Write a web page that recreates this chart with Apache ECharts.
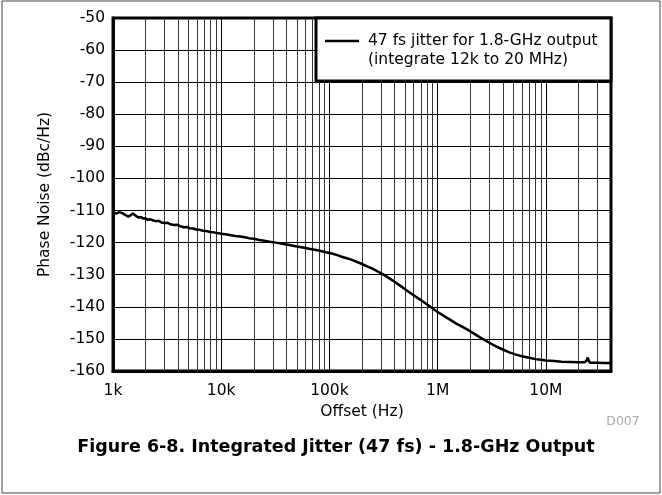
<!DOCTYPE html>
<html>
<head>
<meta charset="utf-8">
<script src="https://cdn.jsdelivr.net/npm/echarts@6/dist/echarts.min.js"></script>
<style>
html,body{margin:0;padding:0;background:#fff;}
#chart{width:662px;height:495px;}
</style>
</head>
<body>
<div id="chart"></div>
<script>
// ---- data ----
const freqHz = [
  1000,1080,1150,1220,1300,1380,1450,1520,1580,1650,1730,1810,1900,2000,2100,2200,2350,2500,2650,2800,
  3000,3200,3400,3650,3900,4200,4500,4800,5100,5500,5900,6300,6800,7300,7900,8500,9200,
  10000,11000,12000,13500,15000,16500,18000,20000,22000,25000,28000,32000,36000,40000,45000,50000,57000,65000,73000,83000,93000,
  105000,118000,130000,150000,170000,195000,220000,250000,280000,310000,350000,400000,450000,500000,560000,630000,700000,800000,900000,
  1000000,1150000,1300000,1500000,1750000,2000000,2300000,2600000,3000000,3500000,4000000,4600000,5300000,6000000,7000000,8000000,9000000,
  10000000,12000000,14000000,17000000,20000000,23000000,24000000,24400000,24800000,25500000,30000000,35000000,40000000
];
const phaseNoise = [
  -110.6,-110.9,-110.5,-110.8,-111.4,-111.9,-111.5,-110.9,-111.2,-111.8,-112.2,-112.0,-112.5,-112.4,-112.9,-112.7,-113.1,-113.3,-113.2,-113.7,
  -113.9,-113.8,-114.3,-114.5,-114.4,-114.9,-115.2,-115.1,-115.5,-115.6,-115.9,-116.0,-116.3,-116.4,-116.7,-116.8,-117.0,
  -117.2,-117.4,-117.6,-117.9,-118.1,-118.3,-118.6,-118.8,-119.1,-119.4,-119.7,-120.0,-120.3,-120.6,-120.9,-121.2,-121.5,-121.9,-122.2,-122.6,-123.0,
  -123.4,-123.9,-124.4,-125.0,-125.7,-126.5,-127.3,-128.1,-129.0,-129.8,-130.9,-132.2,-133.4,-134.5,-135.7,-136.9,-137.9,-139.3,-140.5,
  -141.6,-142.9,-144.0,-145.3,-146.5,-147.6,-148.9,-150.0,-151.2,-152.4,-153.3,-154.2,-154.9,-155.4,-155.9,-156.3,-156.5,
  -156.7,-156.9,-157.1,-157.2,-157.3,-157.3,-156.5,-155.8,-156.6,-157.4,-157.4,-157.5,-157.5
];
const xTickValues = [1000, 10000, 100000, 1000000, 10000000];
const xTickLabels = ['1k', '10k', '100k', '1M', '10M'];
const minorGridX = [
  2000,3000,4000,5000,6000,7000,8000,9000,
  20000,30000,40000,50000,60000,70000,80000,90000,
  200000,300000,400000,500000,600000,700000,800000,900000,
  2000000,3000000,4000000,5000000,6000000,7000000,8000000,9000000,
  20000000,30000000
];
const seriesName = '47 fs jitter for 1.8-GHz output';
const seriesNote = '(integrate 12k to 20 MHz)';
const chartTitle = 'Figure 6-8. Integrated Jitter (47 fs) - 1.8-GHz Output';

const FONT = '"DejaVu Sans", "Liberation Sans", Arial, sans-serif';
const curve = freqHz.map((f, i) => [f, phaseNoise[i]]);

const chart = echarts.init(document.getElementById('chart'), null, {renderer: 'canvas'});
chart.setOption({
  animation: false,
  backgroundColor: '#fff',
  grid: {
    left: 113, top: 18, width: 498, height: 353,
    show: true, borderColor: '#000', borderWidth: 3, backgroundColor: 'transparent'
  },
  xAxis: {
    type: 'log', logBase: 10, min: 1000, max: 40000000,
    name: 'Offset (Hz)', nameLocation: 'middle', nameGap: 32,
    nameTextStyle: {fontFamily: FONT, fontSize: 15.5, color: '#000'},
    axisLine: {show: true, lineStyle: {color: '#000', width: 3}},
    axisTick: {show: false},
    axisLabel: {
      fontFamily: FONT, fontSize: 15.5, color: '#000', margin: 12,
      formatter: v => { const i = xTickValues.findIndex(t => Math.abs(t - v) / t < 1e-6); return i >= 0 ? xTickLabels[i] : ''; }
    },
    splitLine: {show: true, lineStyle: {color: '#000', width: 1}}
  },
  yAxis: {
    type: 'value', min: -160, max: -50, interval: 10,
    name: 'Phase Noise (dBc/Hz)', nameLocation: 'middle', nameGap: 60,
    nameTextStyle: {fontFamily: FONT, fontSize: 15.5, color: '#000'},
    axisLine: {show: true, lineStyle: {color: '#000', width: 3}},
    axisTick: {show: false},
    axisLabel: {fontFamily: FONT, fontSize: 15.5, color: '#000', margin: 8},
    splitLine: {show: true, lineStyle: {color: '#000', width: 1}}
  },
  series: [
    {
      name: 'minor-grid', type: 'line', data: [], silent: true, z: 1,
      markLine: {
        silent: true, symbol: 'none', animation: false,
        label: {show: false},
        lineStyle: {color: '#333', width: 1, type: 'solid'},
        emphasis: {disabled: true},
        data: minorGridX.map(v => ({xAxis: v}))
      }
    },
    {
      name: seriesName, type: 'line', data: curve, showSymbol: false, symbol: 'none',
      z: 5, lineStyle: {color: '#000', width: 2.5}
    }
  ],
  graphic: [
    {type: 'rect', z: 100, shape: {x: 2, y: 1, width: 658, height: 492},
     style: {fill: 'none', stroke: '#444', lineWidth: 1}},
    {type: 'rect', z: 100, shape: {x: 316, y: 18, width: 295, height: 63},
     style: {fill: '#fff', stroke: '#000', lineWidth: 3}},
    {type: 'line', z: 101, shape: {x1: 325, y1: 41, x2: 359, y2: 41},
     style: {stroke: '#000', lineWidth: 2.5}},
    {type: 'text', z: 101, x: 368, y: 41,
     style: {text: seriesName, fontFamily: FONT, fontSize: 15.5, fill: '#000', align: 'left', verticalAlign: 'middle'}},
    {type: 'text', z: 101, x: 368, y: 60,
     style: {text: seriesNote, fontFamily: FONT, fontSize: 15.5, fill: '#000', align: 'left', verticalAlign: 'middle'}},
    {type: 'text', z: 101, x: 623, y: 422,
     style: {text: 'D007', fontFamily: FONT, fontSize: 12.5, fill: '#aaa', align: 'center', verticalAlign: 'middle'}},
    {type: 'text', z: 101, x: 336, y: 447,
     style: {text: chartTitle, fontFamily: FONT, fontSize: 17.5, fontWeight: 'bold', fill: '#000', align: 'center', verticalAlign: 'middle'}}
  ]
});
</script>
</body>
</html>
